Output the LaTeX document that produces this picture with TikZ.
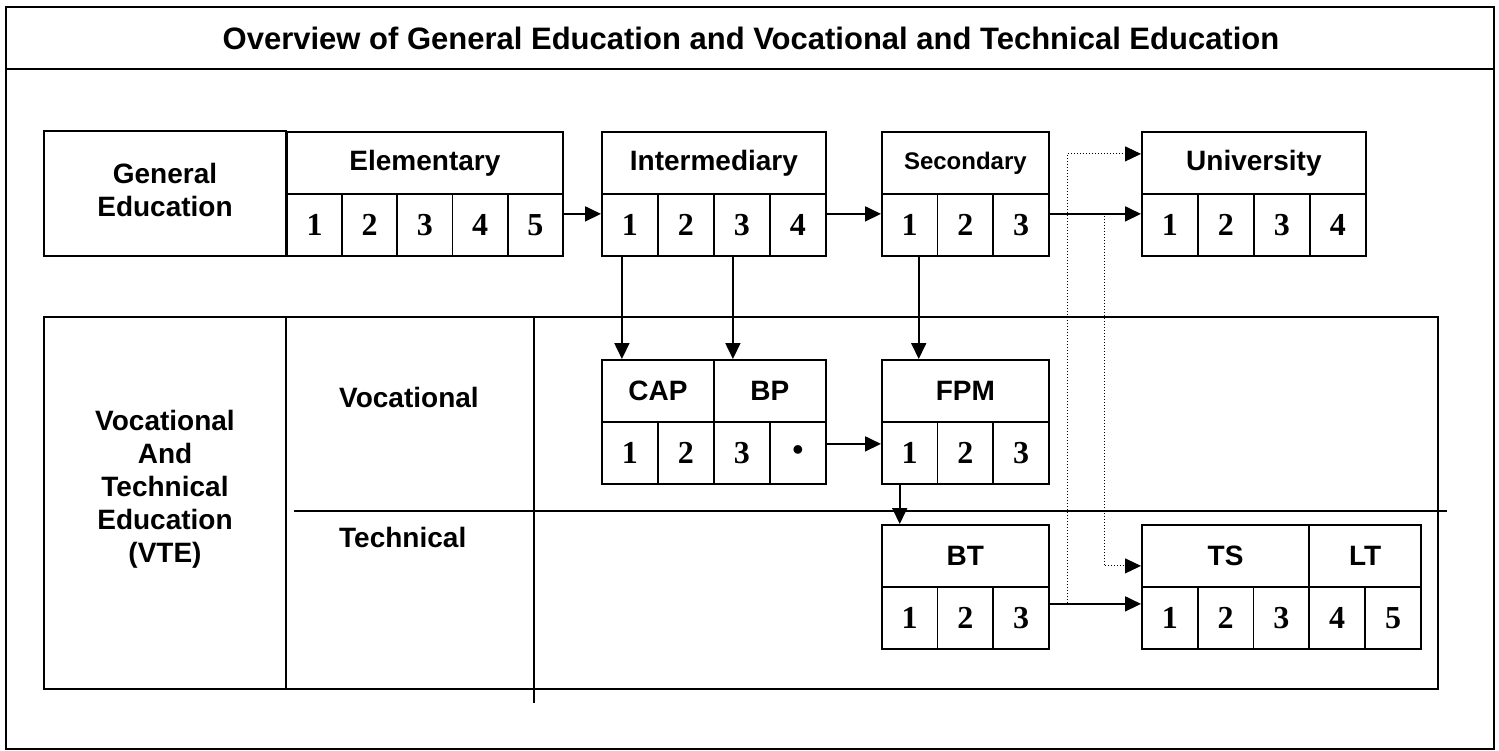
\documentclass[tikz,border=0pt]{standalone}
\usepackage{fontspec}
\setmainfont{Liberation Serif}
\setsansfont{Liberation Sans}
\usetikzlibrary{arrows.meta}

\tikzset{
  num/.style={draw, line width=1.8pt, minimum height=62pt, inner sep=0pt, anchor=north west,
    font=\fontsize{32}{32}\selectfont\bfseries},
  hdr/.style={draw, line width=1.8pt, minimum height=62pt, inner sep=0pt, anchor=north west,
    font=\sffamily\bfseries\fontsize{28}{33}\selectfont},
  lab/.style={font=\sffamily\bfseries\fontsize{28}{33}\selectfont},
  link/.style={line width=1.8pt, -{Triangle[length=16pt,width=15pt]}},
  hint/.style={line width=1pt, dotted, -{Triangle[length=16pt,width=15pt]}},
}

\begin{document}
\begin{tikzpicture}[x=1pt,y=-1pt]
    \useasboundingbox (0,0) rectangle (1499,751);
    % Frame and heading
    \draw[line width=1.8pt] (6,7) rectangle (1494,749);
    \draw[line width=1.8pt] (6,69) -- (1494,69);
    \node[lab, font=\sffamily\bfseries\fontsize{31}{34}\selectfont] (title) at (751,38)
        {Overview of General Education and Vocational and Technical Education};

    % General education row
    \draw[line width=1.8pt] (44,131) rectangle (286,256);
    \node[lab, align=center] (gen) at (165,190) {General\\Education};
    \node[hdr, minimum width=276pt] (elem) at (286,131) {Elementary};
    \foreach \i in {1,...,5}
        \node[num, minimum width=55.2pt] (elem\i) at ({286+(\i-1)*55.2},193) {\i};
    \node[hdr, minimum width=224pt] (inter) at (601,131) {Intermediary};
    \foreach \i in {1,...,4}
        \node[num, minimum width=56pt] (inter\i) at ({601+(\i-1)*56},193) {\i};
    \node[hdr, minimum width=167pt, font=\sffamily\bfseries\fontsize{24}{30}\selectfont] (sec) at (881,131) {Secondary};
    \foreach \i in {1,2,3}
        \node[num, minimum width=55.67pt] (sec\i) at ({881+(\i-1)*55.67},193) {\i};
    \node[hdr, minimum width=224pt] (uni) at (1141,131) {University};
    \foreach \i in {1,...,4}
        \node[num, minimum width=56pt] (uni\i) at ({1141+(\i-1)*56},193) {\i};

    % Vocational and technical block
    \draw[line width=1.8pt] (44,317) rectangle (1438,689);
    \draw[line width=1.8pt] (286,317) -- (286,689);
    \node[lab, align=center] (vte) at (165,489)
        {Vocational\\And\\Technical\\Education\\(VTE)};
    \draw[line width=1.8pt] (534,317) -- (534,703);
    \draw[line width=1.8pt] (294,511) -- (1447,511);
    \node[lab, anchor=west, inner sep=0pt] (voclab) at (339,397) {Vocational};
    \node[lab, anchor=west, inner sep=0pt] (techlab) at (339,537) {Technical};

    \node[hdr, minimum width=112pt] (cap) at (601,359) {CAP};
    \node[hdr, minimum width=112pt] (bp) at (713,359) {BP};
    \foreach \i/\t in {1/1,2/2,3/3,4/\textbullet}
        \node[num, minimum width=56pt] (vc\i) at ({601+(\i-1)*56},421) {\t};
    \node[hdr, minimum width=167pt] (fpm) at (881,359) {FPM};
    \foreach \i in {1,2,3}
        \node[num, minimum width=55.67pt] (fpm\i) at ({881+(\i-1)*55.67},421) {\i};
    \node[hdr, minimum width=167pt] (bt) at (881,524) {BT};
    \foreach \i in {1,2,3}
        \node[num, minimum width=55.67pt] (bt\i) at ({881+(\i-1)*55.67},586) {\i};
    \node[hdr, minimum width=167.4pt] (ts) at (1141,524) {TS};
    \node[hdr, minimum width=111.6pt] (lt) at (1308.4,524) {LT};
    \foreach \i in {1,...,5}
        \node[num, minimum width=55.8pt] (ts\i) at ({1141+(\i-1)*55.8},586) {\i};

    % Paths between stages
    \draw[link] ([yshift=11pt]elem5.east) -- ([yshift=11pt]inter1.west);
    \draw[link] ([yshift=11pt]inter4.east) -- ([yshift=11pt]sec1.west);
    \draw[link] ([yshift=11pt]sec3.east) -- ([yshift=11pt]uni1.west);
    \draw[link] ([xshift=-8pt]inter1.south) -- ([xshift=-8pt]inter1.south |- cap.north);
    \draw[link] ([xshift=-9pt]inter3.south) -- ([xshift=-9pt]inter3.south |- bp.north);
    \draw[link] ([xshift=9pt]sec1.south) -- ([xshift=9pt]sec1.south |- fpm.north);
    \draw[link] ([yshift=9pt]vc4.east) -- ([yshift=9pt]fpm1.west);
    \draw[link] ([xshift=-10pt]fpm1.south) -- ([xshift=-10pt]fpm1.south |- bt.north);
    \draw[link] ([yshift=14pt]bt3.east) -- ([yshift=14pt]ts1.west);

    % Bridges to higher studies
    \coordinate (d1) at (1067,603);
    \coordinate (d2) at (1104,213);
    \draw[hint] (d1) |- ([yshift=9pt]uni.west);
    \draw[hint] (d2) |- ([yshift=-10pt]ts.west);
\end{tikzpicture}
\end{document}
